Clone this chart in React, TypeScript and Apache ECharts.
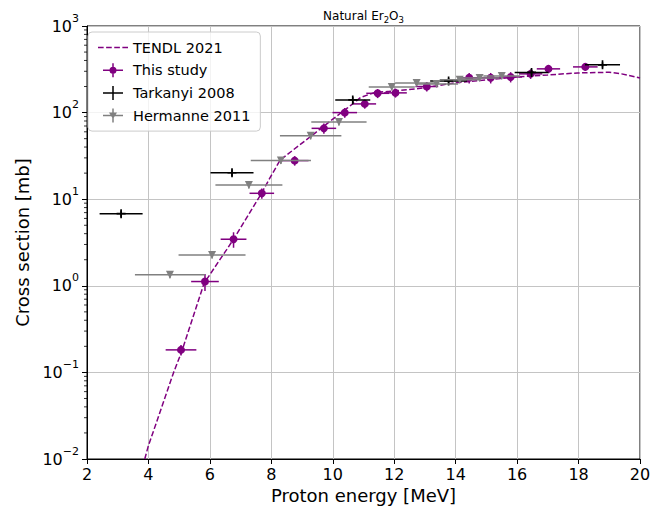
import React, { useEffect, useRef } from 'react';
import * as echarts from 'echarts';

// ---- data ----
const tendlEnergy = [3.88, 3.99, 4.82, 5.09, 5.81, 6.54, 6.78, 7.68, 7.95, 8.29, 9.31, 10.0, 10.49, 10.91, 11.37, 11.85, 12.73, 13.97, 14.98, 15.98, 16.99, 17.97, 18.68, 19.0, 19.4, 20.0];
const tendlSigma = [0.01, 0.0139, 0.1, 0.177, 1.07, 2.6, 3.5, 11.7, 17.5, 28.4, 54, 84, 114, 150, 171, 176, 188, 220, 239, 258, 272, 287, 291, 292, 280, 251];

const tsEnergy = [5.06, 5.84, 6.77, 7.69, 8.76, 9.71, 10.39, 11.04, 11.46, 12.04, 13.06, 14.44, 15.14, 15.79, 16.44, 17.02, 18.22];
const tsEnergyErr = [0.5, 0.45, 0.42, 0.4, 0.45, 0.4, 0.4, 0.37, 0.37, 0.37, 0.37, 0.37, 0.37, 0.37, 0.38, 0.38, 0.4];
const tsSigma = [0.182, 1.12, 3.45, 11.7, 27.9, 65.8, 100, 126, 167, 169, 200, 252, 252, 258, 280, 320, 337];
const tsSigmaErr = [0.025, 0.25, 0.7, 1.6, 3.5, 9, 13, 15, 20, 20, 25, 35, 35, 35, 35, 35, 30];

const tkEnergy = [3.11, 6.72, 10.65, 13.77, 16.47, 18.78];
const tkEnergyErr = [0.7, 0.7, 0.57, 0.6, 0.55, 0.57];
const tkSigma = [6.8, 20.2, 140, 232, 291, 356];
const tkSigmaErr = [0.6, 1.8, 12, 18, 22, 25];

const hmEnergy = [4.7, 6.07, 7.27, 8.31, 9.28, 10.2, 11.92, 12.73, 13.38, 14.13, 14.78, 15.5];
const hmEnergyErr = [1.14, 1.09, 1.09, 0.98, 1.0, 0.9, 0.75, 0.7, 0.7, 0.65, 0.65, 0.6];
const hmSigma = [1.34, 2.27, 14.6, 28, 54, 78, 198, 220, 214, 239, 251, 265];
const hmSigmaErr = [0.12, 0.2, 1.3, 2.5, 5, 7, 17, 19, 18, 20, 21, 22];

const yTickExponents: Record<string, string> = {
  '-2': '−2', '-1': '−1', '0': '0', '1': '1', '2': '2', '3': '3',
};

const FONT = 'DejaVu Sans';
const PURPLE = '#800080';
const GRAY = '#808080';
const BLACK = '#000000';

const ICON_TENDL = 'path://M0,0h5.5v1.5h-5.5z M7.9,0h5.5v1.5h-5.5z M15.8,0h5.5v1.5h-5.5z M23.7,0h5.5v1.5h-5.5z';
const ICON_TS = 'path://M0,6.25h20v1.5h-20z M9.25,0h1.5v14h-1.5z M6.5,7a3.5,3.5 0 1,1 7,0a3.5,3.5 0 1,1 -7,0z';
const ICON_TK = 'path://M0,6.25h20v1.5h-20z M9.25,0h1.5v14h-1.5z';
const ICON_HM = 'path://M0,6.25h20v1.5h-20z M9.25,0h1.5v14h-1.5z M6,4h8l-4,6.5z';
const PLUS = 'path://M0,3.25h8v1.5h-8z M3.25,0h1.5v8h-1.5z';

function rows(e: number[], de: number[], s: number[], ds: number[]) {
  return e.map((v, i) => [v, s[i], de[i], ds[i]]);
}

function errRender(color: string) {
  return (_params: any, api: any) => {
    const x = api.value(0), y = api.value(1), dx = api.value(2), dy = api.value(3);
    const l = api.coord([x - dx, y]);
    const r = api.coord([x + dx, y]);
    const t = api.coord([x, y + dy]);
    const b = api.coord([x, y - dy]);
    return {
      type: 'group',
      children: [
        { type: 'line', shape: { x1: l[0], y1: l[1], x2: r[0], y2: r[1] }, style: { stroke: color, lineWidth: 1.5 } },
        { type: 'line', shape: { x1: t[0], y1: t[1], x2: b[0], y2: b[1] }, style: { stroke: color, lineWidth: 1.5 } },
      ],
    };
  };
}

const minorTicks: number[][] = [];
for (let d = -2; d < 3; d++) {
  for (let m = 2; m <= 9; m++) minorTicks.push([2, m * Math.pow(10, d)]);
}

export default function App() {
  const ref = useRef<HTMLDivElement>(null);
  useEffect(() => {
    if (!ref.current) return;
    const chart = echarts.init(ref.current, null, { renderer: 'svg' });
    const option: any = {
      animation: false,
      backgroundColor: '#ffffff',
      textStyle: { fontFamily: FONT },
      title: {
        text: '{a|Natural Er}{s|2}{a|O}{s|3}',
        left: 363.5,
        textAlign: 'center',
        top: 8,
        padding: 0,
        textStyle: {
          fontFamily: FONT, fontSize: 12, fontWeight: 'normal', color: '#000',
          rich: {
            a: { fontFamily: FONT, fontSize: 12, color: '#000', lineHeight: 16 },
            s: { fontFamily: FONT, fontSize: 8.5, color: '#000', lineHeight: 8, verticalAlign: 'bottom' },
          },
        },
      },
      grid: {
        left: 87, top: 26, width: 553, height: 433,
        outerBoundsMode: 'none', containLabel: false,
        show: true, borderColor: '#000', borderWidth: 1, backgroundColor: 'transparent',
      },
      legend: {
        orient: 'vertical', left: 88, top: 32,
        padding: [8, 10, 8, 10],
        itemWidth: 30, itemHeight: 14, itemGap: 7.7, itemTextGap: 13,
        backgroundColor: 'rgba(255,255,255,0.8)', borderColor: '#cccccc', borderWidth: 1, borderRadius: 4,
        textStyle: { fontFamily: FONT, fontSize: 14.5, color: '#000' },
        data: [
          { name: 'TENDL 2021', icon: ICON_TENDL, itemStyle: { color: PURPLE } },
          { name: 'This study', icon: ICON_TS },
          { name: 'Tarkanyi 2008', icon: ICON_TK },
          { name: 'Hermanne 2011', icon: ICON_HM },
        ],
      },
      xAxis: {
        type: 'value', min: 2, max: 20, interval: 2,
        name: 'Proton energy [MeV]', nameLocation: 'middle', nameGap: 26,
        nameTextStyle: { fontFamily: FONT, fontSize: 18, color: '#000' },
        axisLine: { show: true, lineStyle: { color: '#000', width: 1 } },
        axisTick: { show: true, length: 5, lineStyle: { color: '#000', width: 1 } },
        axisLabel: { fontFamily: FONT, fontSize: 16, color: '#000', margin: 7 },
        splitLine: { show: true, lineStyle: { color: '#c4c4c4', width: 1 } },
      },
      yAxis: {
        type: 'log', logBase: 10, min: 0.01, max: 1000, splitNumber: 5,
        name: 'Cross section [mb]', nameLocation: 'middle', nameGap: 53, nameRotate: 90,
        nameTextStyle: { fontFamily: FONT, fontSize: 18, color: '#000' },
        axisLine: { show: true, lineStyle: { color: '#000', width: 1 } },
        axisTick: { show: true, length: 5, lineStyle: { color: '#000', width: 1 } },
        axisLabel: {
          fontFamily: FONT, fontSize: 16, color: '#000', margin: 8,
          formatter: (v: number) => {
            const e = yTickExponents[String(Math.round(Math.log10(v)))];
            return e === undefined ? '' : '{b|10}{s|' + e + '}';
          },
          rich: {
            b: { fontFamily: FONT, fontSize: 16, color: '#000', lineHeight: 27 },
            s: { fontFamily: FONT, fontSize: 11, color: '#000', lineHeight: 11, verticalAlign: 'top' },
          },
        },
        splitLine: { show: true, lineStyle: { color: '#c4c4c4', width: 1 } },
      },
      series: [
        {
          name: 'TENDL 2021', type: 'line', symbol: 'none', smooth: false,
          data: tendlEnergy.map((e, i) => [e, tendlSigma[i]]),
          lineStyle: { color: PURPLE, width: 1.5, type: [5.5, 2.4] },
          itemStyle: { color: PURPLE },
          z: 2,
        },
        {
          name: '_ts_err', type: 'custom', renderItem: errRender(PURPLE),
          data: rows(tsEnergy, tsEnergyErr, tsSigma, tsSigmaErr), encode: { x: 0, y: 1 },
          clip: true, silent: true, z: 3,
        },
        {
          name: 'This study', type: 'scatter', symbol: 'circle', symbolSize: 8,
          data: tsEnergy.map((e, i) => [e, tsSigma[i]]),
          itemStyle: { color: PURPLE, opacity: 1 }, z: 3,
        },
        {
          name: '_tk_err', type: 'custom', renderItem: errRender(BLACK),
          data: rows(tkEnergy, tkEnergyErr, tkSigma, tkSigmaErr), encode: { x: 0, y: 1 },
          clip: true, silent: true, z: 4,
        },
        {
          name: 'Tarkanyi 2008', type: 'scatter', symbol: PLUS, symbolSize: 9,
          data: tkEnergy.map((e, i) => [e, tkSigma[i]]),
          itemStyle: { color: BLACK, opacity: 1 }, z: 4,
        },
        {
          name: '_hm_err', type: 'custom', renderItem: errRender(GRAY),
          data: rows(hmEnergy, hmEnergyErr, hmSigma, hmSigmaErr), encode: { x: 0, y: 1 },
          clip: true, silent: true, z: 5,
        },
        {
          name: 'Hermanne 2011', type: 'scatter', symbol: 'triangle', symbolRotate: 180, symbolSize: 8,
          data: hmEnergy.map((e, i) => [e, hmSigma[i]]),
          itemStyle: { color: GRAY, opacity: 1 }, z: 5,
        },
        {
          name: '_minor', type: 'custom', silent: true, clip: false,
          data: minorTicks, encode: { x: 0, y: 1 },
          renderItem: (_p: any, api: any) => {
            const p = api.coord([api.value(0), api.value(1)]);
            return { type: 'line', shape: { x1: p[0] - 3, y1: p[1], x2: p[0], y2: p[1] }, style: { stroke: '#000', lineWidth: 0.8 } };
          },
          z: 6,
        },
      ],
    };
    chart.setOption(option);
    return () => chart.dispose();
  }, []);
  return <div ref={ref} style={{ position: 'absolute', left: 0, top: 0, width: 668, height: 506 }} />;
}
